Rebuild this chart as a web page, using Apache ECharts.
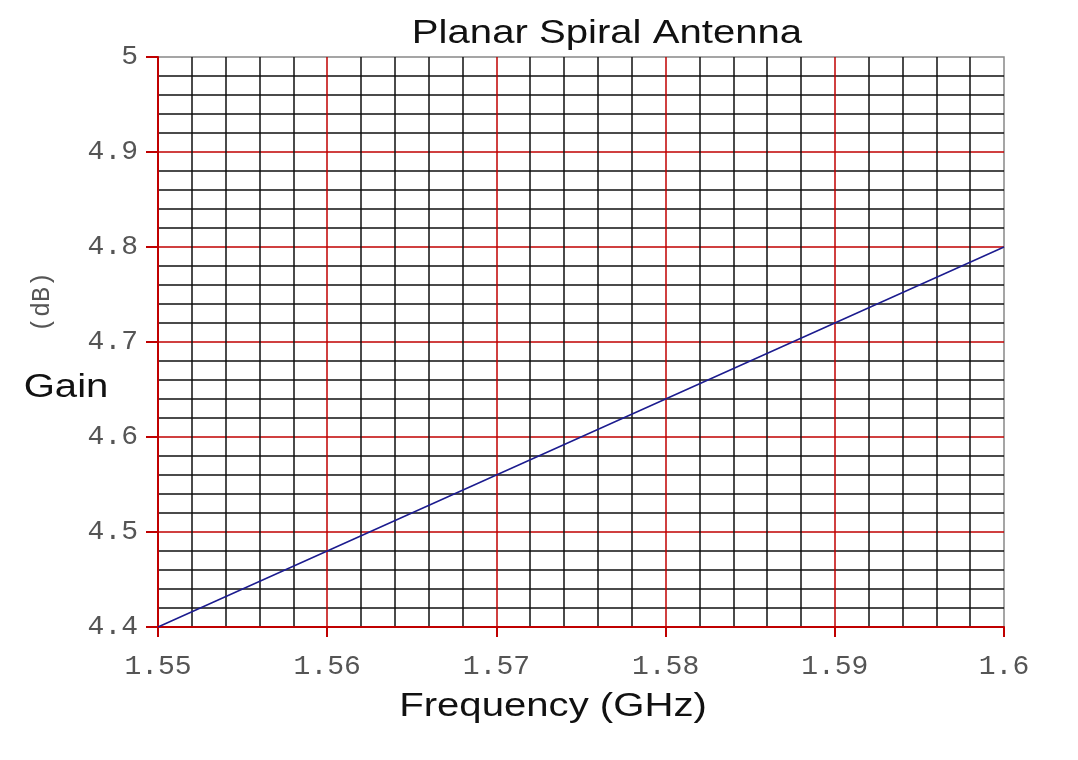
<!DOCTYPE html>
<html lang="en">
<head>
    <meta charset="UTF-8">
    <title>Planar Spiral Antenna</title>
    <script src="https://cdn.jsdelivr.net/npm/echarts@6/dist/echarts.min.js"></script>
    <style>
html, body{
    margin:0;
    padding:0;
    background:#fff;
}
#chart{
    width:1078px;
    height:760px;
}
    </style>
</head>
<body>
<div id="chart"></div>
<script type="text/javascript">
    // frequency (GHz) and gain (dB)
    var freq = [1.55, 1.56, 1.57, 1.58, 1.59, 1.6];
    var gain = [4.4, 4.48, 4.56, 4.64, 4.72, 4.8];

    var xRange = [1.55, 1.6];
    var yRange = [4.4, 5];

    var majorRed = '#c00000';
    var labelFont = {
        fontFamily: 'Liberation Mono',
        fontSize: 28,
        color: '#555'
    };

    // the original picture is a little stretched sideways
    function wideText(str, x, y, size, rot) {
        return {
            type: 'text',
            x: x,
            y: y,
            scaleX: 1.18,
            rotation: rot || 0,
            style: {
                text: str,
                fontFamily: 'Liberation Sans',
                fontSize: size,
                fill: '#111',
                textAlign: 'center',
                textVerticalAlign: 'middle'
            }
        };
    }

    var myChart = echarts.init(document.getElementById('chart'));
    myChart.setOption({
        backgroundColor: '#fff',
        grid: {
            left: 158,
            right: 74,
            top: 57,
            bottom: 133,
            show: true,
            borderColor: '#888',
            borderWidth: 1.5,
            backgroundColor: '#fff'
        },
        xAxis: {
            type: 'value',
            min: xRange[0],
            max: xRange[1],
            interval: 0.01,
            axisLine: {lineStyle: {color: majorRed, width: 2}},
            axisTick: {show: true, length: 10, lineStyle: {color: majorRed, width: 2}},
            axisLabel: Object.assign({margin: 26}, labelFont),
            splitLine: {show: true, showMinLine: false, showMaxLine: false, lineStyle: {color: majorRed, width: 1.5}},
            minorTick: {show: false, splitNumber: 5},
            minorSplitLine: {show: true, lineStyle: {color: '#111', width: 1.5}}
        },
        yAxis: {
            type: 'value',
            min: yRange[0],
            max: yRange[1],
            interval: 0.1,
            axisLine: {show: true, lineStyle: {color: majorRed, width: 2}},
            axisTick: {show: true, length: 12, lineStyle: {color: majorRed, width: 2}},
            axisLabel: Object.assign({margin: 20}, labelFont),
            splitLine: {show: true, showMinLine: false, showMaxLine: false, lineStyle: {color: majorRed, width: 1.5}},
            minorTick: {show: false, splitNumber: 5},
            minorSplitLine: {show: true, lineStyle: {color: '#111', width: 1.5}}
        },
        graphic: [
            wideText('Planar Spiral Antenna', 607, 34, 34),
            wideText('Frequency (GHz)', 553, 707, 34),
            wideText('Gain', 66, 388, 34),
            {
                type: 'text',
                x: 42,
                y: 302,
                rotation: Math.PI / 2,
                style: {
                    text: '(dB)',
                    fontFamily: 'Liberation Mono',
                    fontSize: 25,
                    fill: '#555',
                    textAlign: 'center',
                    textVerticalAlign: 'middle'
                }
            }
        ],
        series: [{
            name: 'Gain',
            type: 'line',
            showSymbol: false,
            data: freq.map(function (f, i) { return [f, gain[i]]; }),
            lineStyle: {color: '#1c1c8f', width: 1.5},
            z: 5
        }]
    });
</script>
</body>
</html>
